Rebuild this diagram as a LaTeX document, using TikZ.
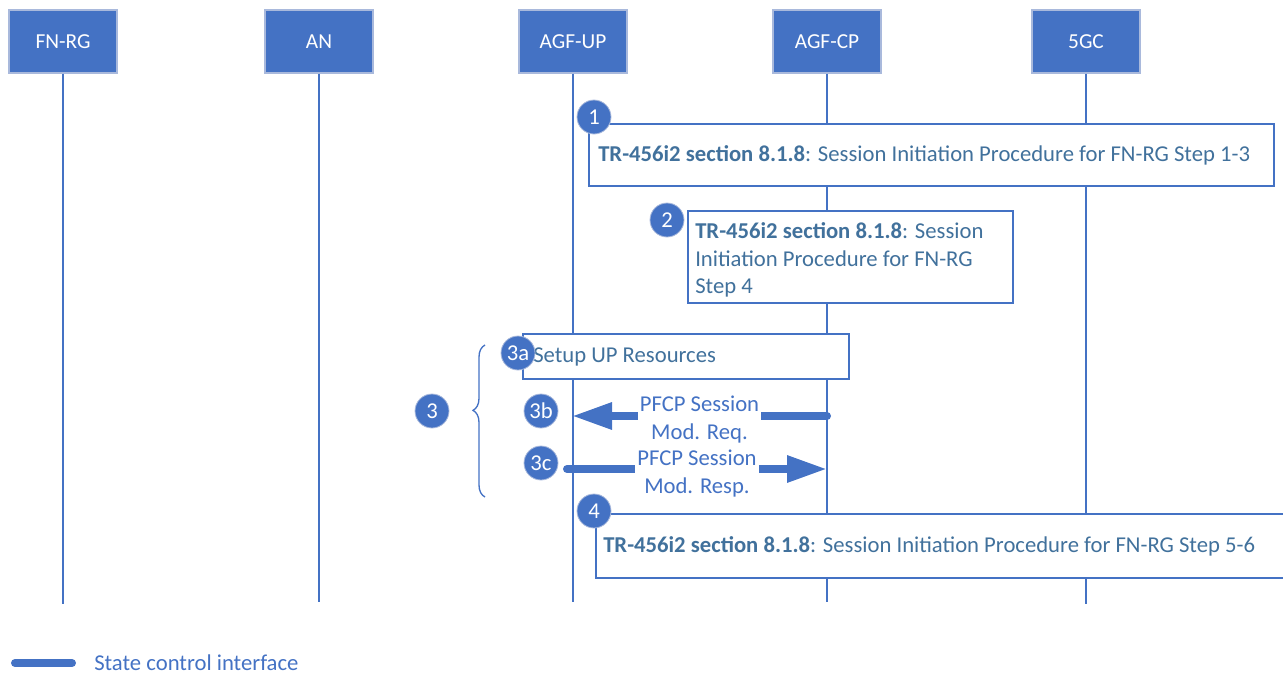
\documentclass[tikz,border=0pt]{standalone}
\usepackage{fontspec}
\setmainfont{Carlito}
\usetikzlibrary{arrows.meta,decorations.pathreplacing}
\definecolor{blu}{HTML}{4472C4}
\definecolor{txt}{HTML}{41719C}
\definecolor{hdrborder}{HTML}{A9B9DC}
\begin{document}
\begin{tikzpicture}[x=0.75pt,y=-0.75pt,
  hdr/.style={draw=hdrborder, line width=0.8pt, fill=blu, minimum width=81pt, minimum height=47.25pt, text=white, font=\fontsize{16}{19}\selectfont, inner sep=0pt},
  life/.style={draw=blu, line width=1.1pt},
  stepbox/.style={draw=blu, line width=0.8pt, fill=white, inner sep=0pt},
  body/.style={text=txt, font=\fontsize{17}{20.6}\selectfont, inner sep=0pt, align=left},
  num/.style={circle, fill=blu, draw=hdrborder, line width=0.6pt, minimum size=25.5pt, inner sep=0pt, text=white, font=\fontsize{17}{20}\selectfont},
  msg/.style={draw=blu, line width=6pt, line cap=round, -{Triangle[length=30pt,width=19pt]}},
  lbl/.style={fill=white, text=blu, font=\fontsize{17}{21}\selectfont, align=center, inner xsep=1.5pt, inner ysep=0pt}
]
\useasboundingbox (0,0) rectangle (1283,675);

% headers
\node[hdr] (fnrg) at (63,41.5) {FN-RG};
\node[hdr] (an)   at (319,41.5) {AN};
\node[hdr] (agfup) at (573,41.5) {AGF-UP};
\node[hdr] (agfcp) at (827,41.5) {AGF-CP};
\node[hdr] (fgc)  at (1086,41.5) {5GC};

% lifeline ends
\coordinate (fnrgE) at (63,604);
\coordinate (anE) at (319,602);
\coordinate (agfupE) at (573,602);
\coordinate (agfcpE) at (827,602);
\coordinate (fgcE) at (1086,604);

\draw[life] (fnrg.south) -- (fnrgE);
\draw[life] (an.south) -- (anE);
\draw[life] (agfup.south) -- (agfupE);
\draw[life] (agfcp.south) -- (agfcpE);
\draw[life] (fgc.south) -- (fgcE);

% step 1
\node[stepbox, minimum width=513.75pt, minimum height=46.5pt] (b1) at (931.5,155) {};
\node[body, anchor=west] (t1) at (598,155) {\textbf{TR-456i2 section 8.1.8}: Session Initiation Procedure for FN-RG Step 1-3};
\node[num] (n1) at (594,117) {1};

% step 2
\node[stepbox, minimum width=243.75pt, minimum height=69pt] (b2) at (850.5,257) {};
\node[body, anchor=west] (t2) at (695,260) {\textbf{TR-456i2 section 8.1.8}: Session\\Initiation Procedure for FN-RG\\Step 4};
\node[num] (n2) at (667,220) {2};

% step 3a
\node[stepbox, minimum width=244.5pt, minimum height=33.75pt] (b3a) at (686,356.5) {};
\node[body, anchor=west] (t3a) at (533,357) {Setup UP Resources};
\node[num] (n3a) at (518,353) {3a};

% step 3 brace
\coordinate (brB) at (485,497);
\coordinate (brT) at (485,345);
\draw[blu, line width=1pt, decorate, decoration={brace, amplitude=9pt, aspect=0.57}] (brB) -- (brT);
\node[num] (n3) at (432,411) {3};

% 3b
\coordinate (cp3b) at (827,416);
\coordinate (up3b) at (572,416);
\draw[msg] (cp3b) -- (up3b) node[lbl, midway, yshift=-3pt] (l3b) {PFCP Session\\Mod. Req.};
\node[num] (n3b) at (541,411) {3b};

% 3c
\coordinate (up3c) at (567,469);
\coordinate (cp3c) at (827,469);
\draw[msg] (up3c) -- (cp3c) node[lbl, midway, yshift=-3.5pt] (l3c) {PFCP Session\\Mod. Resp.};
\node[num] (n3c) at (541,463) {3c};

% step 4
\node[stepbox, minimum width=520.5pt, minimum height=48pt] (b4) at (943,546) {};
\node[body, anchor=west] (t4) at (603,546) {\textbf{TR-456i2 section 8.1.8}: Session Initiation Procedure for FN-RG Step 5-6};
\node[num] (n4) at (594,511) {4};

% legend
\coordinate (lgA) at (15,663);
\coordinate (lgB) at (72,663);
\draw[blu, line width=6pt, line cap=round] (lgA) -- (lgB);
\node[text=blu, font=\fontsize{17}{20}\selectfont, anchor=west, inner sep=0pt] (lgT) at (94,663) {State control interface};
\end{tikzpicture}
\end{document}
